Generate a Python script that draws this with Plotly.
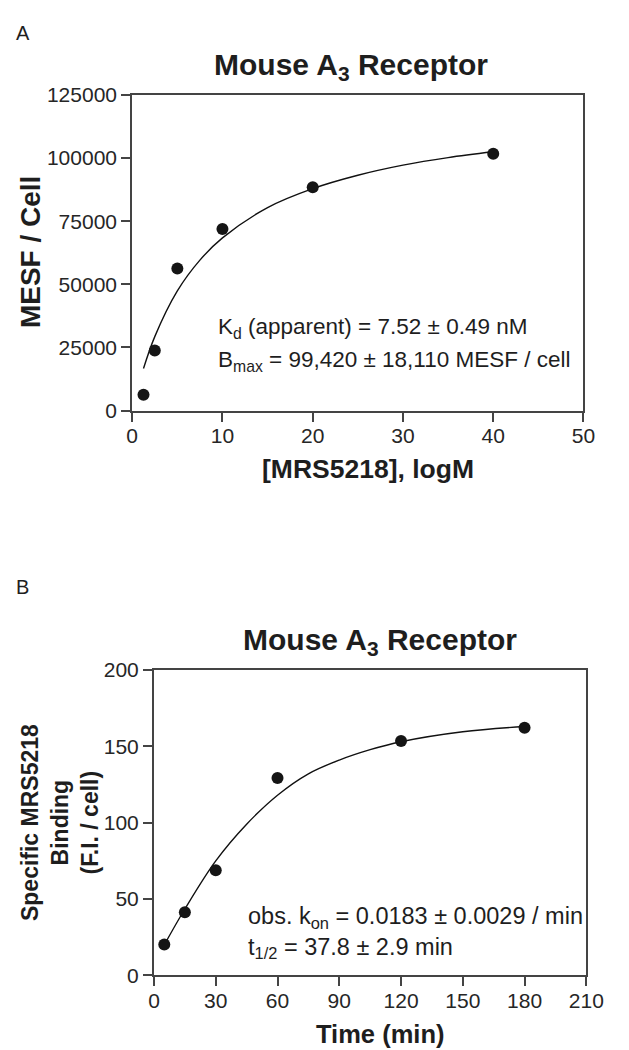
import plotly.graph_objects as go

# ---------------- data ----------------
# Panel A: saturation binding
conc_a = [1.25, 2.5, 5, 10, 20, 40]
mesf_a = [6300, 23800, 56300, 71900, 88500, 101700]
fit_a_x = [1.25, 2.5, 5, 7.5, 10, 15, 20, 25, 30, 35, 40]
fit_a_y = [16650, 29300, 47400, 59600, 68400, 80400, 87900, 93200, 97200, 100200, 102500]
ticks_a_x = [0, 10, 20, 30, 40, 50]
ticks_a_y = [0, 25000, 50000, 75000, 100000, 125000]

# Panel B: association kinetics
time_b = [5, 15, 30, 60, 120, 180]
bind_b = [20.2, 41.4, 68.9, 129.2, 153.5, 162.2]
fit_b_x = [5, 15, 30, 45, 60, 75, 90, 105, 120, 150, 180]
fit_b_y = [20, 43.5, 75, 99, 118, 132, 141, 147.8, 153, 159.5, 163]
ticks_b_x = [0, 30, 60, 90, 120, 150, 180, 210]
ticks_b_y = [0, 50, 100, 150, 200]

# ---------------- page geometry ----------------
OFF = 8                 # body margin of the html page
W, H = 629 - 2 * OFF, 1050
VS, VO = 0.977, 11.3    # observed vertical mapping of the captured picture
HS, HO = 1.015, -1.0    # observed horizontal mapping of the captured picture
FONT = "Liberation Sans, Arial, sans-serif"
TXT = "#1e1e1e"
AX = "#444444"
DOT = "#151515"


def px_x(p):
    page = (p - HO) / HS
    return max((page - OFF) / W, 0.0)


def px_y(p):
    page = (p - VO) / VS
    return min(1 - (page - OFF) / H, 1.0)


fig = go.Figure()
fig.add_trace(go.Scatter(x=fit_a_x, y=fit_a_y, mode="lines",
                         line=dict(color="#111", width=1.4, shape="spline", smoothing=1.0),
                         xaxis="x", yaxis="y", hoverinfo="skip"))
fig.add_trace(go.Scatter(x=conc_a, y=mesf_a, mode="markers", marker=dict(color=DOT, size=12),
                         xaxis="x", yaxis="y", cliponaxis=False))
fig.add_trace(go.Scatter(x=fit_b_x, y=fit_b_y, mode="lines",
                         line=dict(color="#111", width=1.4, shape="spline", smoothing=1.0),
                         xaxis="x2", yaxis="y2", hoverinfo="skip"))
fig.add_trace(go.Scatter(x=time_b, y=bind_b, mode="markers", marker=dict(color=DOT, size=12),
                         xaxis="x2", yaxis="y2", cliponaxis=False))


def ax_common(size, standoff=0):
    return dict(showline=True, mirror=True, linecolor=AX, linewidth=2, ticks="outside", ticklen=9,
                tickwidth=2, tickcolor=AX, showgrid=False, zeroline=False,
                ticklabelstandoff=standoff,
                tickfont=dict(family=FONT, size=size, color="#262626"))


fig.update_layout(
    width=W, height=H, margin=dict(l=0, r=0, t=0, b=0),
    paper_bgcolor="white", plot_bgcolor="white", showlegend=False,
    xaxis=dict(domain=[px_x(132), px_x(608.7)], range=[0, 50], tickmode="array", tickvals=ticks_a_x,
               anchor="y", **ax_common(21, -4)),
    yaxis=dict(domain=[px_y(409.3), px_y(94)], range=[0, 125000], tickmode="array", tickvals=ticks_a_y,
               tickformat="d", anchor="x", **ax_common(21)),
    xaxis2=dict(domain=[px_x(155), px_x(611.7)], range=[0, 210], tickmode="array", tickvals=ticks_b_x,
                anchor="y2", **ax_common(21, -4)),
    yaxis2=dict(domain=[px_y(973.5), px_y(668.3)], range=[0, 200], tickmode="array", tickvals=ticks_b_y,
                anchor="x2", **ax_common(21)),
)

ann = []


def text(x, y, s, size, bold=False, angle=0, xanchor="center", yanchor="middle", align="center"):
    ann.append(dict(x=px_x(x), y=px_y(y), xref="paper", yref="paper",
                    text=(f"<b>{s}</b>" if bold else s),
                    showarrow=False, textangle=angle, xanchor=xanchor, yanchor=yanchor, align=align,
                    font=dict(family=FONT, size=size, color=TXT)))


# panel letters
text(0, 0, "A", 20, xanchor="left", yanchor="top")
text(0, 585, "B", 20, xanchor="left")
# titles
text(363, 66, "Mouse A<sub>3</sub> Receptor", 30, bold=True)
text(394, 640, "Mouse A<sub>3</sub> Receptor", 30, bold=True)
# axis titles
text(24, 251, "MESF / Cell", 28, bold=True, angle=-90)
text(381, 468, "[MRS5218], logM", 26.5, bold=True)
text(56, 821, "Specific MRS5218<br>Binding<br>(F.I. / cell)", 23, bold=True, angle=-90)
text(394, 1032, "Time (min)", 25.5, bold=True)
# fit annotations
text(220, 327, "K<sub>d</sub> (apparent) = 7.52 ± 0.49 nM", 22.5, xanchor="left")
text(220, 360, "B<sub>max</sub> = 99,420 ± 18,110 MESF / cell", 22.5, xanchor="left")
text(252, 931, "obs. k<sub>on</sub> = 0.0183 ± 0.0029 / min<br>t<sub>1/2</sub> = 37.8 ± 2.9 min", 23.5,
     xanchor="left", align="left")

fig.update_layout(annotations=ann)
fig.write_html("out.html")
